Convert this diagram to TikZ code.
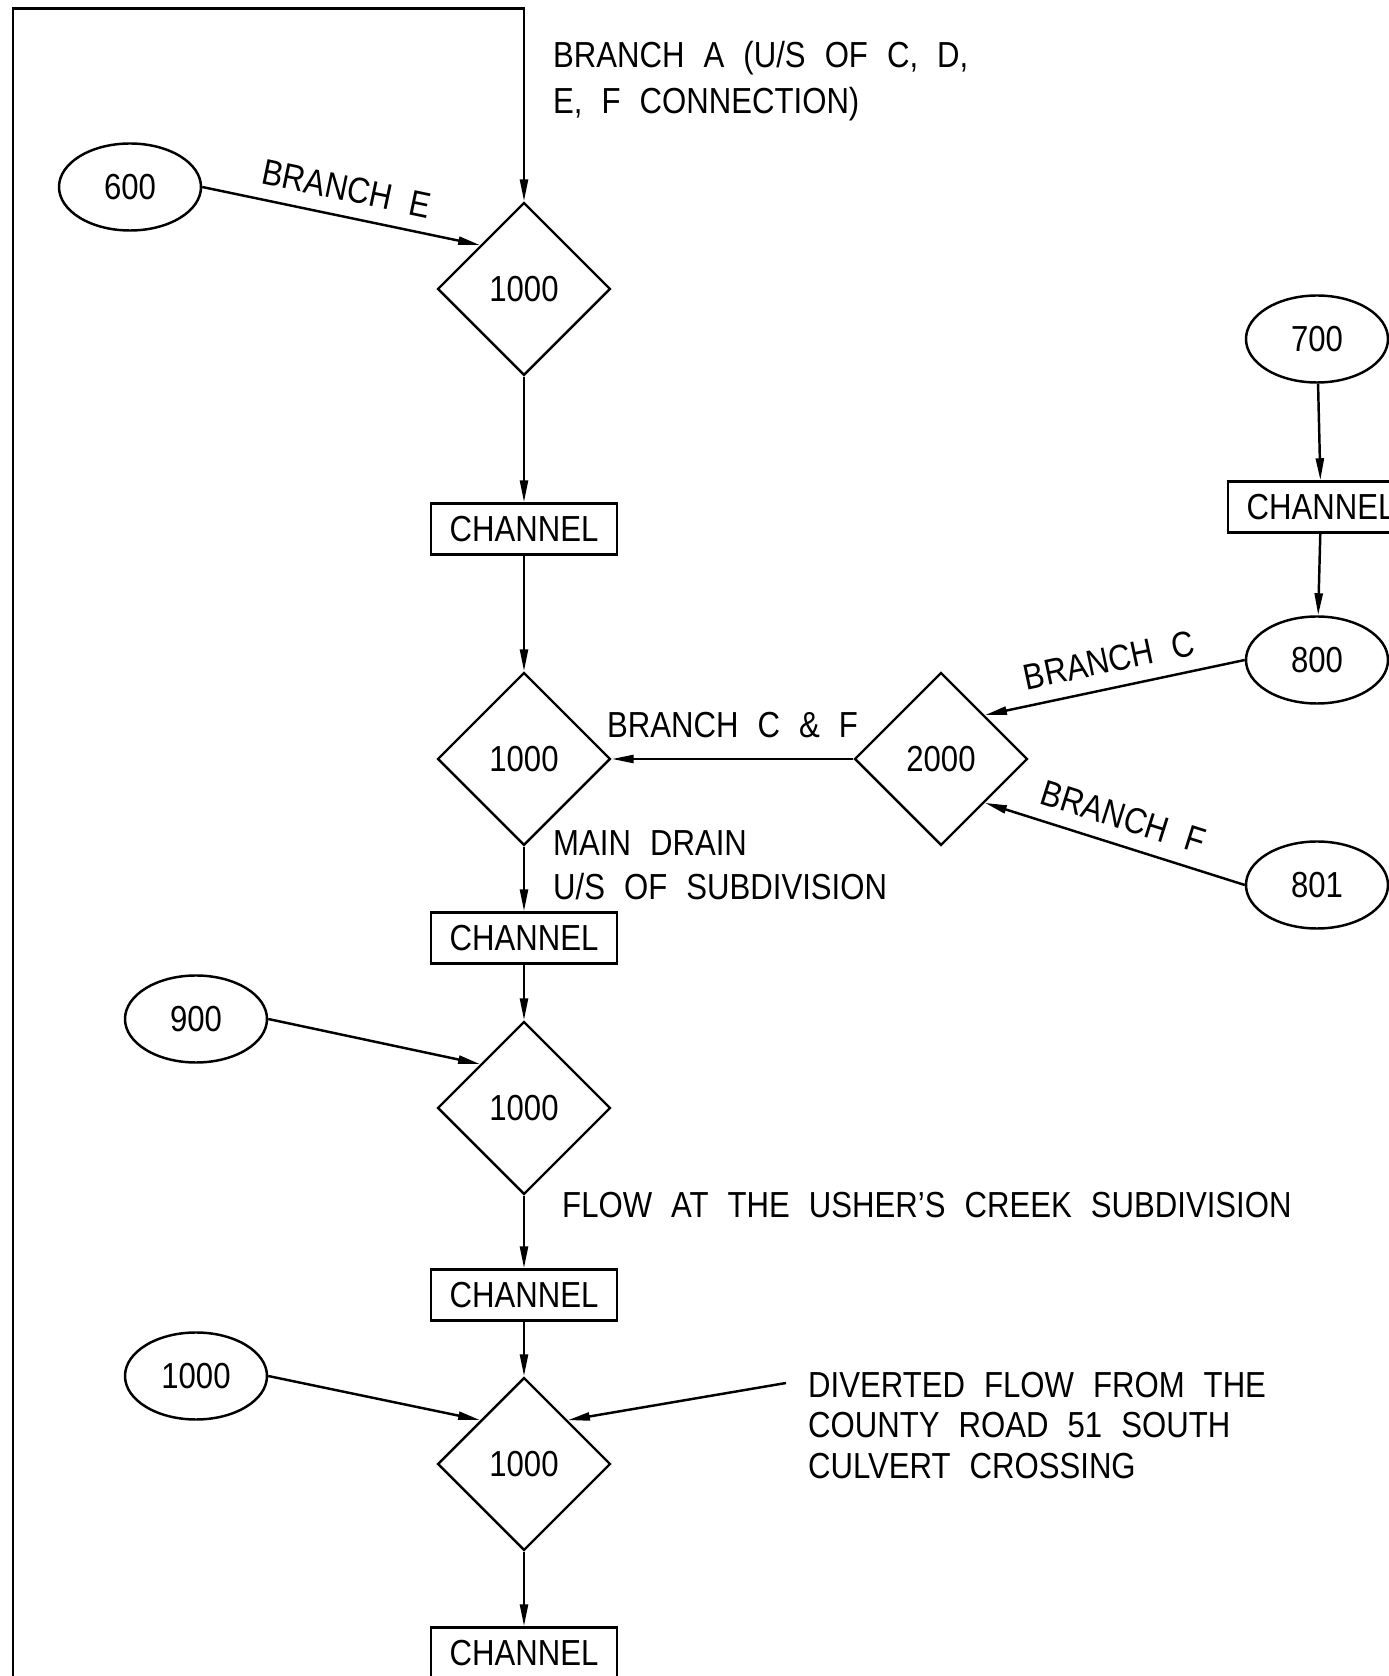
\documentclass[tikz,border=0pt]{standalone}
\usepackage{fontspec}
\setmainfont{Liberation Sans}[FakeStretch=0.86, WordSpace=2.2]
\usetikzlibrary{shapes.geometric,arrows.meta}

\begin{document}
\begin{tikzpicture}[
  font=\fontsize{10.3}{13}\selectfont,
  line width=0.7pt,
  junction/.style={draw, diamond, aspect=1, inner sep=0pt, minimum width=1.73cm, minimum height=1.73cm},
  inflow/.style={draw, ellipse, inner sep=0pt, minimum width=1.42cm, minimum height=0.87cm},
  reach/.style={draw, rectangle, inner sep=0pt, minimum width=1.86cm, minimum height=0.51cm},
  flowline/.style={-{Triangle[length=0.22cm,width=0.08cm]}},
  branchlabel/.style={sloped, above=0.14cm, inner sep=0pt}
]
\useasboundingbox (0,0) rectangle (13.89,16.76);
\clip (0,0) rectangle (13.89,16.76);

% main drain
\node[junction] (j1) at (5.24,13.87) {1000};
\node[reach] (ch1) at (5.24,11.47) {CHANNEL};
\node[junction] (j2) at (5.24,9.17) {1000};
\node[reach] (ch2) at (5.24,7.38) {CHANNEL};
\node[junction] (j3) at (5.24,5.68) {1000};
\node[reach] (ch3) at (5.24,3.81) {CHANNEL};
\node[junction] (j4) at (5.24,2.12) {1000};
\node[reach] (ch4) at (5.24,0.23) {CHANNEL};

% inflows
\node[inflow] (n600) at (1.30,14.89) {600};
\node[inflow] (n900) at (1.96,6.57) {900};
\node[inflow] (n1000) at (1.96,3.00) {1000};
\node[inflow] (n700) at (13.17,13.37) {700};
\node[reach] (chr) at (13.21,11.69) {CHANNEL};
\node[inflow] (n800) at (13.17,10.16) {800};
\node[inflow] (n801) at (13.17,7.91) {801};
\node[junction] (j2000) at (9.41,9.17) {2000};

% branch A loop
\coordinate (loopstart) at (0.128,-0.3);
\coordinate (corner) at (0.128,16.674);
\draw[flowline] (loopstart) -- (corner) -- (corner -| j1.north) -- (j1.north);

\node[anchor=north west, align=left, inner sep=0pt, font=\fontsize{10.3}{13.1}\selectfont] (txta) at (5.52,16.36)
  {BRANCH A (U/S OF C, D,\\E, F CONNECTION)};

\draw[flowline] (n600.east) -- node[branchlabel] {BRANCH E} (j1.north west);
\draw[flowline] (j1) -- (ch1);
\draw[flowline] (ch1) -- (j2);

\draw[flowline] (n700) -- (chr);
\draw[flowline] (chr) -- (n800);
\draw[flowline] (n800.west) -- node[branchlabel] {BRANCH C} (j2000.north east);
\draw[flowline] (n801.west) -- node[branchlabel] {BRANCH F} (j2000.south east);
\draw[flowline] (j2000) -- node[above=0.2cm, inner sep=0pt] {BRANCH C \& F} (j2);

\draw[flowline] (j2) -- (ch2);
\node[anchor=north west, align=left, inner sep=0pt, font=\fontsize{10.3}{12.7}\selectfont] (txtmain) at (5.52,8.47)
  {MAIN DRAIN\\U/S OF SUBDIVISION};

\draw[flowline] (ch2) -- (j3);
\draw[flowline] (n900.east) -- (j3.north west);
\draw[flowline] (j3) -- (ch3);
\node[anchor=west, inner sep=0pt] (txtflow) at (5.61,4.71) {FLOW AT THE USHER'S CREEK SUBDIVISION};

\draw[flowline] (ch3) -- (j4);
\draw[flowline] (n1000.east) -- (j4.north west);
\coordinate (divert) at (7.86,2.93);
\draw[flowline] (divert) -- (j4.north east);
\node[anchor=north west, align=left, inner sep=0pt, font=\fontsize{10.3}{11.5}\selectfont] (txtdiv) at (8.07,3.05)
  {DIVERTED FLOW FROM THE\\COUNTY ROAD 51 SOUTH\\CULVERT CROSSING};
\draw[flowline] (j4) -- (ch4);
\end{tikzpicture}
\end{document}
